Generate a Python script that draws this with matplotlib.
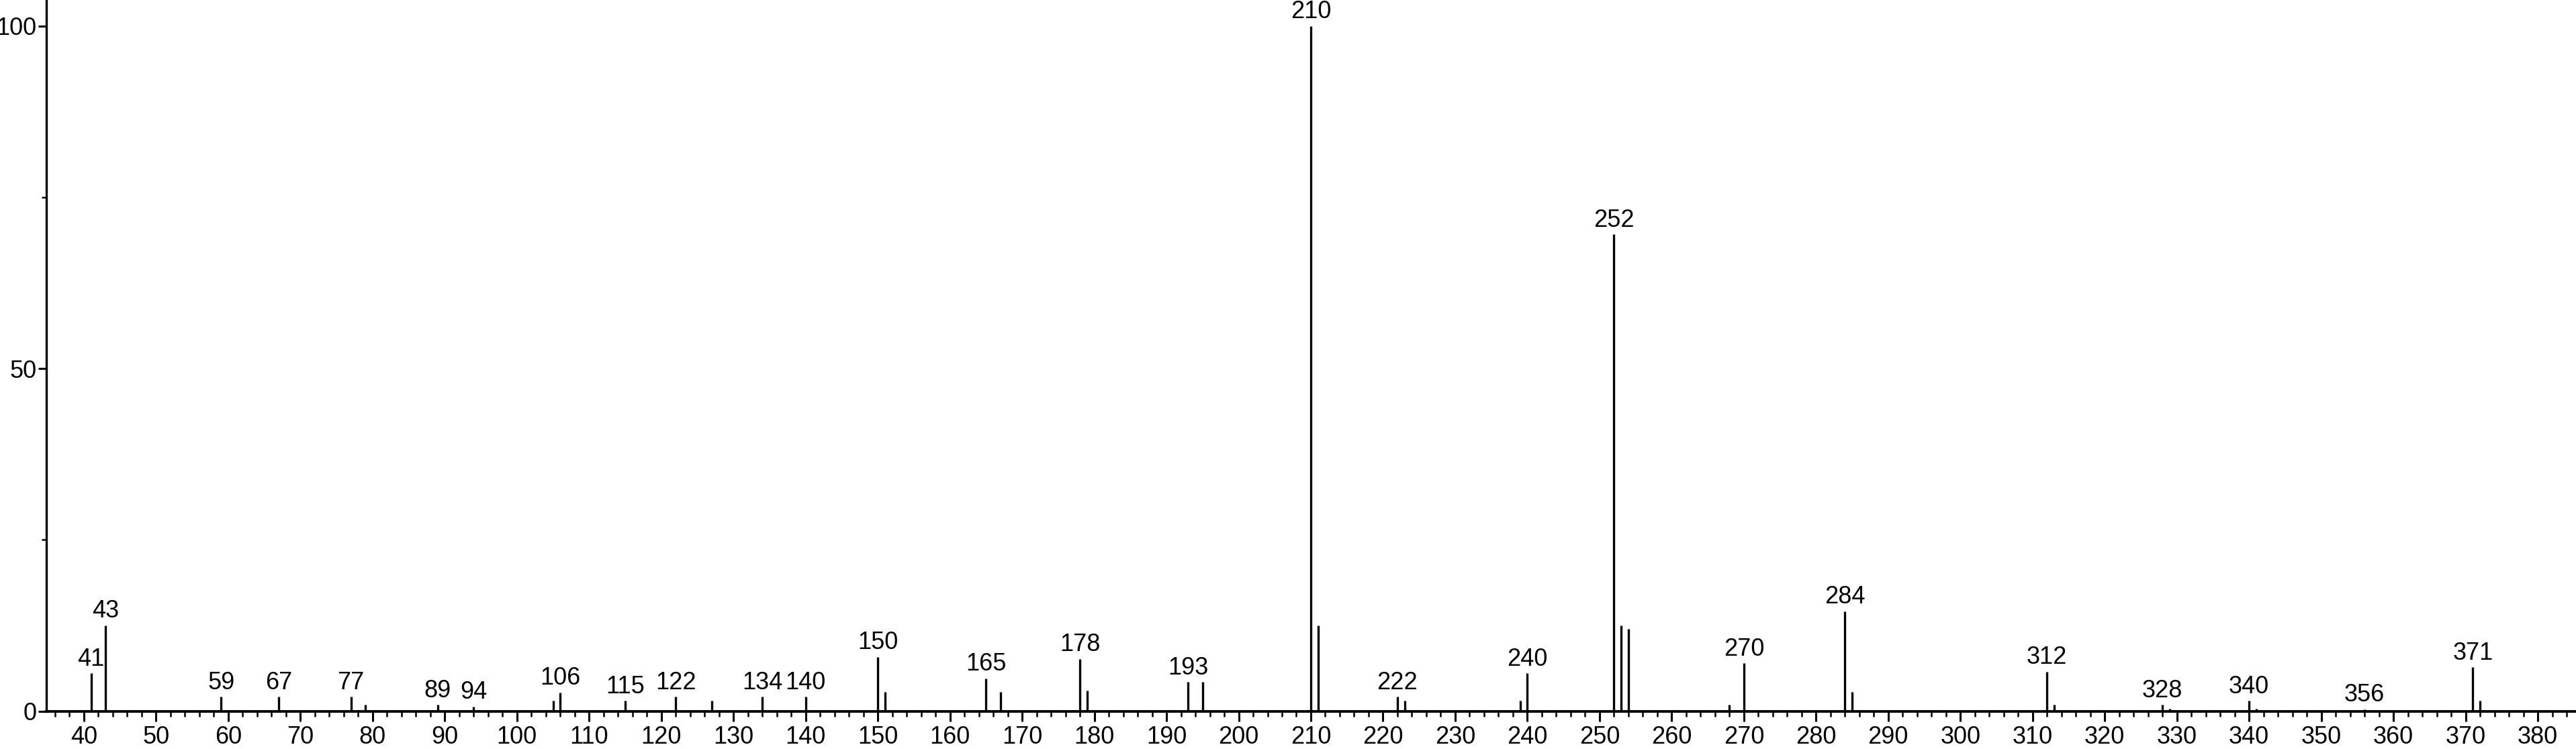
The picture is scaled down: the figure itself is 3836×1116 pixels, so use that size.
import numpy as np
import matplotlib
matplotlib.use("Agg")
import matplotlib.pyplot as plt
from matplotlib.ticker import MultipleLocator

# mass spectrum: m/z and relative intensity
MZ = [41, 43, 59, 67, 77, 79, 89, 94, 105, 106, 115, 122, 127, 134, 140,
      150, 151, 165, 167, 178, 179, 193, 195, 210, 211, 222, 223, 239, 240,
      252, 253, 254, 268, 270, 284, 285, 312, 313, 328, 329, 340, 341, 356,
      371, 372]
INTENSITY = [5.5, 12.5, 2.1, 2.1, 2.1, 0.9, 0.9, 0.65, 1.5, 2.7, 1.5, 2.1, 1.5, 2.1, 2.1,
             7.9, 2.8, 4.8, 2.8, 7.6, 3.0, 4.25, 4.25, 100, 12.5, 2.1, 1.5, 1.5, 5.5,
             69.6, 12.5, 12.0, 0.9, 7.0, 14.6, 2.8, 5.75, 0.9, 0.9, 0.33, 1.5, 0.33, 0.26,
             6.4, 1.5]
LABELED = [41, 43, 59, 67, 77, 89, 94, 106, 115, 122, 134, 140, 150, 165, 178,
           193, 210, 222, 240, 252, 270, 284, 312, 328, 340, 356, 371]

plt.rcParams['font.family'] = ['Liberation Sans', 'DejaVu Sans']

fig = plt.figure(figsize=(38.36, 11.16), dpi=100)
ax = fig.add_axes([0.01786, 0.0506, 1 - 0.01786, 1 - 0.0506])

ax.vlines(MZ, 0, INTENSITY, colors='black', linewidth=2.4)

peaks = dict(zip(MZ, INTENSITY))
for m in LABELED:
    ax.annotate(str(m), (m, peaks[m]), xytext=(0, 2.5), textcoords='offset points',
                ha='center', va='bottom', fontsize=26, color='black')

ax.set_xlim(34.75, 385.3)
ax.set_ylim(0, 103.8)

ax.xaxis.set_major_locator(MultipleLocator(10))
ax.xaxis.set_minor_locator(MultipleLocator(2))
ax.yaxis.set_major_locator(MultipleLocator(50))
ax.yaxis.set_minor_locator(MultipleLocator(25))

ax.spines['top'].set_visible(False)
ax.spines['right'].set_visible(False)
ax.spines['left'].set_linewidth(2.4)
ax.spines['bottom'].set_linewidth(2.8)

ax.tick_params(axis='x', which='major', length=11, width=2.2, pad=4.5, labelsize=26)
ax.tick_params(axis='x', which='minor', length=6, width=1.8)
ax.tick_params(axis='y', which='major', length=9, width=2.2, pad=1, labelsize=26)
ax.tick_params(axis='y', which='minor', length=5, width=1.8)

fig.savefig('out.png', dpi=100)
